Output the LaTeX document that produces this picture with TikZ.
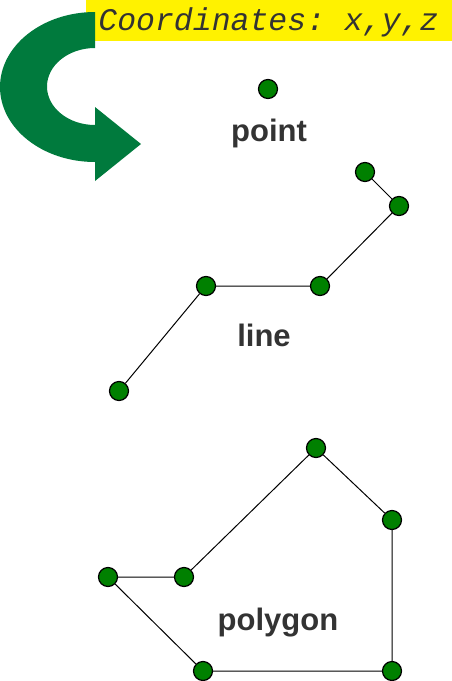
\documentclass[tikz,border=0pt]{standalone}
\usepackage{fontspec}
\setsansfont{Liberation Sans}
\setmonofont{Liberation Mono}
\definecolor{arrowgreen}{RGB}{0,122,61}
\definecolor{dotgreen}{RGB}{0,128,0}
\definecolor{labelgray}{RGB}{51,51,51}
\tikzset{
  dot/.style={circle, draw=black, line width=1.2pt, fill=dotgreen, minimum size=19pt, inner sep=0pt},
  lbl/.style={font=\sffamily\bfseries\fontsize{31}{36}\selectfont, text=labelgray, anchor=base},
}
\begin{document}
\begin{tikzpicture}[x=1pt,y=-1pt]
    \useasboundingbox (0,0) rectangle (452,681);

    % title
    \fill[yellow] (86,0) rectangle (452,41);
    \node[font=\ttfamily\itshape\fontsize{31.5}{36}\selectfont, text=labelgray, anchor=base] (title) at (268.5,30) {Coordinates: x,y,z};

    % big curved arrow
    \fill[arrowgreen] (95,12) -- (95,48)
        arc[start angle=270, end angle=90, x radius=48, y radius=38.5]
        -- (95,107) -- (141,144) -- (95,181) -- (95,162)
        arc[start angle=90, end angle=270, x radius=95, y radius=75] -- cycle;

    % point
    \node[dot] (p) at (268,89) {};
    \node[lbl] (plbl) at (269,141) {point};

    % line
    \node[dot] (l1) at (365,172) {};
    \node[dot] (l2) at (399,206) {};
    \node[dot] (l3) at (320,286) {};
    \node[dot] (l4) at (206,286) {};
    \node[dot] (l5) at (119,391) {};
    \draw[line width=1pt] (l1) -- (l2) -- (l3) -- (l4) -- (l5);
    \node[lbl] (llbl) at (264,346.5) {line};

    % polygon
    \node[dot] (g1) at (316,448) {};
    \node[dot] (g2) at (392,520) {};
    \node[dot] (g3) at (392,671) {};
    \node[dot] (g4) at (203,671) {};
    \node[dot] (g5) at (108,577) {};
    \node[dot] (g6) at (184,577) {};
    \draw[line width=1pt] (g1) -- (g2) -- (g3) -- (g4) -- (g5) -- (g6) -- (g1);
    \node[lbl] (glbl) at (278,630) {polygon};

\end{tikzpicture}
\end{document}
